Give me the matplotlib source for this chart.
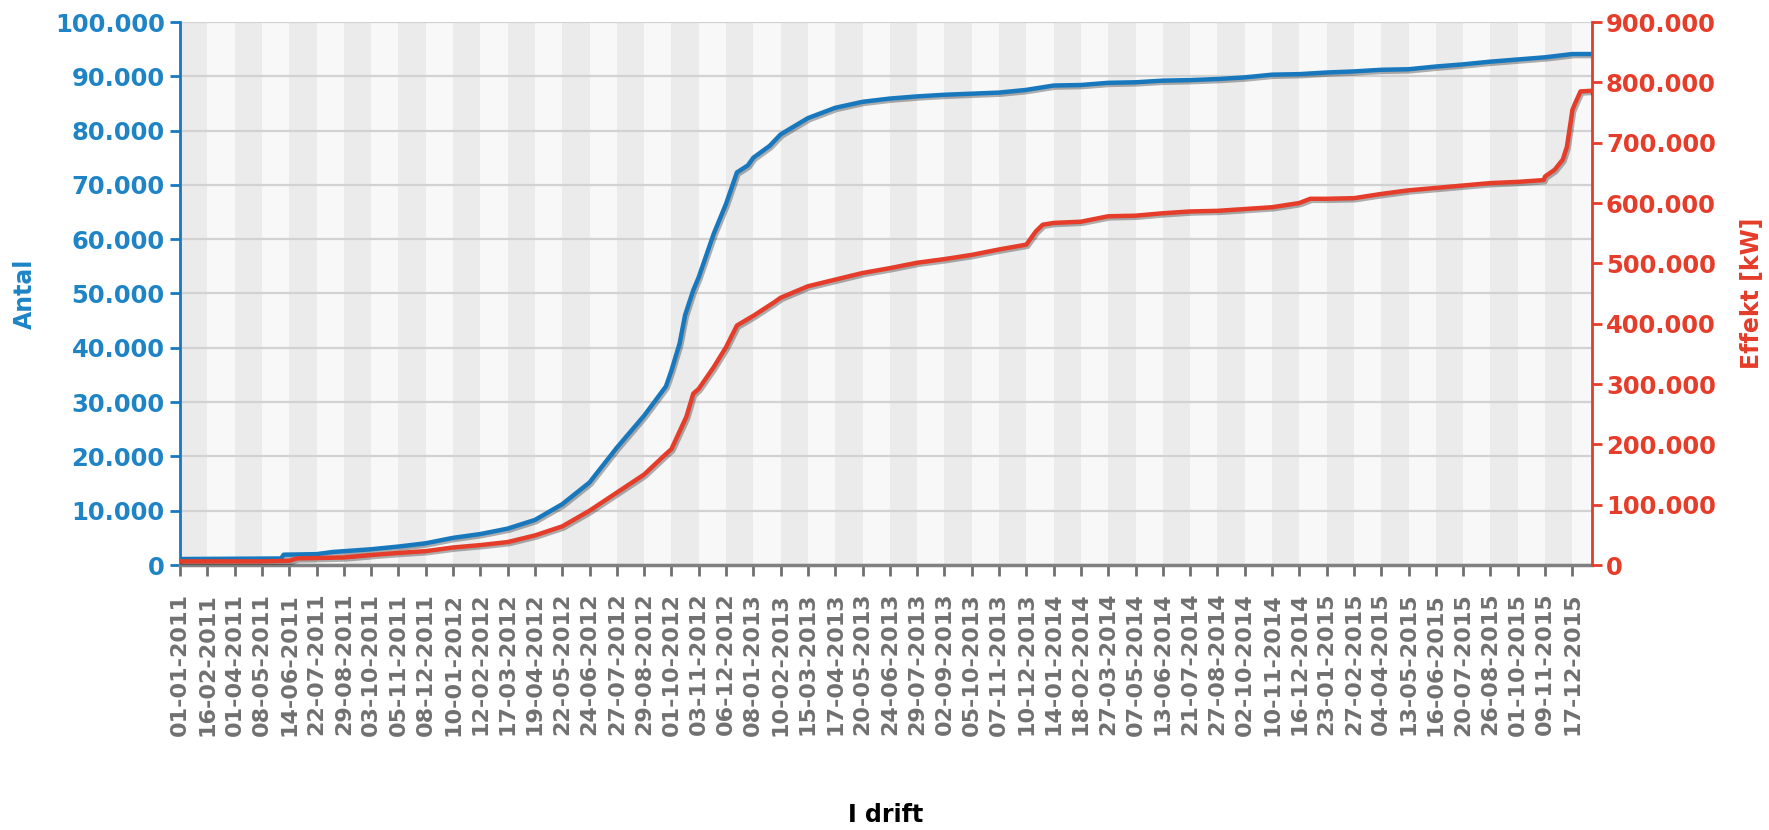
import matplotlib
matplotlib.use("Agg")
import matplotlib.pyplot as plt
import matplotlib.patheffects as pe
from matplotlib.ticker import FuncFormatter, MultipleLocator

# x axis is a category axis, every tick label is one labelled category
tick_labels = ['01-01-2011', '16-02-2011', '01-04-2011', '08-05-2011', '14-06-2011',
               '22-07-2011', '29-08-2011', '03-10-2011', '05-11-2011', '08-12-2011',
               '10-01-2012', '12-02-2012', '17-03-2012', '19-04-2012', '22-05-2012',
               '24-06-2012', '27-07-2012', '29-08-2012', '01-10-2012', '03-11-2012',
               '06-12-2012', '08-01-2013', '10-02-2013', '15-03-2013', '17-04-2013',
               '20-05-2013', '24-06-2013', '29-07-2013', '02-09-2013', '05-10-2013',
               '07-11-2013', '10-12-2013', '14-01-2014', '18-02-2014', '27-03-2014',
               '07-05-2014', '13-06-2014', '21-07-2014', '27-08-2014', '02-10-2014',
               '10-11-2014', '16-12-2014', '23-01-2015', '27-02-2015', '04-04-2015',
               '13-05-2015', '16-06-2015', '20-07-2015', '26-08-2015', '01-10-2015',
               '09-11-2015', '17-12-2015']
x_end = 51.72

# Antal (count), position in category units
antal_pos = [0, 3.7, 3.8, 5, 5.6, 7, 8, 9, 10, 11, 12, 13, 14, 15, 16, 17, 17.8, 18,
             18.3, 18.5, 18.8, 19, 19.55, 20, 20.4, 20.8, 21, 21.6, 22, 23, 24, 25, 26,
             27, 28, 29, 30, 31, 32, 33, 34, 35, 36, 37, 38, 39, 40, 41, 42, 43, 44,
             45, 46, 47, 48, 49, 50, 51, 51.72]
antal = [1100, 1200, 1900, 2000, 2400, 2900, 3400, 4000, 5000, 5700, 6700, 8300,
         11200, 15200, 21600, 27500, 32900, 35800, 40800, 46000, 50600, 53000, 61000,
         66500, 72300, 73600, 75000, 77200, 79300, 82300, 84200, 85300, 85900, 86300,
         86600, 86800, 87000, 87500, 88300, 88400, 88800, 88900, 89200, 89300, 89500,
         89800, 90300, 90400, 90700, 90900, 91200, 91300, 91800, 92200, 92700, 93100,
         93500, 94100, 94100]

# Effekt [kW]
effekt_pos = [0, 3, 4, 4.3, 5, 6, 7, 8, 9, 10, 11, 12, 13, 14, 15, 16, 17, 17.8, 18,
              18.55, 18.8, 19, 19.55, 20, 20.4, 21, 21.75, 22, 23, 24, 25, 26, 27, 28,
              29, 30, 31, 31.35, 31.6, 32, 33, 34, 35, 36, 37, 38, 39, 40, 41, 41.4, 42,
              43, 44, 45, 46, 47, 48, 49, 49.95, 50, 50.35, 50.65, 50.8, 50.95, 51, 51.1,
              51.3, 51.72]
effekt = [6000, 6000, 7000, 11000, 11500, 12500, 16500, 20000, 23000, 29000, 33000,
          38000, 49000, 64000, 90000, 120000, 150000, 184000, 192000, 246000, 284000,
          292000, 328000, 361000, 397000, 413000, 435000, 443000, 462000, 473000,
          484000, 492000, 501000, 507000, 514000, 523000, 531000, 553000, 564000,
          567000, 569000, 578000, 579000, 583000, 586000, 587000, 590000, 593000,
          600000, 607000, 607000, 608000, 615000, 621000, 625000, 629000, 633000,
          635000, 638000, 644000, 655000, 672000, 693000, 738000, 754000, 765000,
          785000, 786000]

BLUE = '#1878be'
BLUE_TXT = '#1e84c6'
RED = '#e63c2a'
GREY = '#707070'


def dots(v, pos):
    return f"{v:,.0f}".replace(",", ".")


fig = plt.figure(figsize=(17.69, 8.30), dpi=100)
ax = fig.add_axes([180 / 1769, 265 / 830, 1412 / 1769, 543 / 830])
ax2 = ax.twinx()

# alternating stripes between ticks
for i in range(len(tick_labels)):
    right = min(i + 1, x_end)
    ax.axvspan(i, right, color='#ebebeb' if i % 2 == 0 else '#f8f8f8', lw=0, zorder=0)

ax.set_xlim(0, x_end)
ax.set_ylim(0, 100000)
ax2.set_ylim(0, 900000)
ax.yaxis.set_major_locator(MultipleLocator(10000))
ax2.yaxis.set_major_locator(MultipleLocator(100000))
ax.yaxis.set_major_formatter(FuncFormatter(dots))
ax2.yaxis.set_major_formatter(FuncFormatter(dots))
ax.grid(axis='y', color='#d2d2d2', lw=1.6, zorder=1)
ax.set_axisbelow(True)

shadow = [pe.SimpleLineShadow(offset=(1.2, -1.5), shadow_color='k', alpha=0.3), pe.Normal()]
ax.plot(antal_pos, antal, color=BLUE, lw=3.2, zorder=3, path_effects=shadow,
        solid_joinstyle='round')
ax2.plot(effekt_pos, effekt, color=RED, lw=3.2, zorder=3, path_effects=shadow,
         solid_joinstyle='round')

ax.set_xticks(range(len(tick_labels)))
ax.set_xticklabels(tick_labels, rotation=90, fontsize=16, fontweight='bold', color=GREY)
ax.tick_params(axis='x', length=8, width=2, color=GREY, pad=12)

ax.tick_params(axis='y', length=7, width=2, color=BLUE, labelcolor=BLUE_TXT,
               labelsize=17.5, pad=4)
ax2.tick_params(axis='y', length=7, width=2, color=RED, labelcolor=RED,
                labelsize=17.5, pad=3)
for lab in ax.get_yticklabels() + ax2.get_yticklabels():
    lab.set_fontweight('bold')

for a in (ax, ax2):
    for side in ('top', 'left', 'right', 'bottom'):
        a.spines[side].set_visible(False)
ax.spines['left'].set_visible(True)
ax.spines['left'].set_color(BLUE)
ax.spines['left'].set_linewidth(2)
ax2.spines['right'].set_visible(True)
ax2.spines['right'].set_color(RED)
ax2.spines['right'].set_linewidth(2)
ax.spines['bottom'].set_visible(True)
ax.spines['bottom'].set_color('#808080')
ax.spines['bottom'].set_linewidth(2.5)

ax.set_ylabel('Antal', color=BLUE_TXT, fontsize=17, fontweight='bold')
ax.yaxis.set_label_coords(-0.11, 0.5)
ax2.set_ylabel('Effekt [kW]', color=RED, fontsize=17, fontweight='bold')
ax2.yaxis.set_label_coords(1.113, 0.5)
ax.set_xlabel('I drift', color='black', fontsize=17, fontweight='bold')
ax.xaxis.set_label_coords(0.5, -0.46)
ax.xaxis.label.set_va('center')
ax.yaxis.label.set_va('center')
ax2.yaxis.label.set_va('center')

fig.savefig('out.png', dpi=100)
